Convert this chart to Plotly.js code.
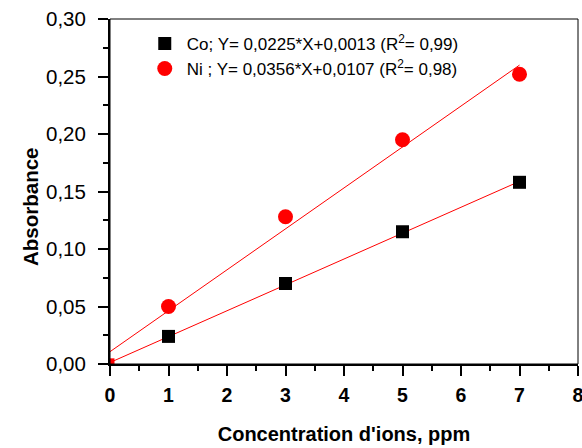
<!DOCTYPE html>
<html>
<head>
<meta charset="utf-8">
<script src="https://cdn.plot.ly/plotly-3.0.1.min.js"></script>
<style>html,body{margin:0;padding:0;background:#fff;}#chart{width:582px;height:448px;}</style>
</head>
<body>
<div id="chart"></div>
<script>
const concentrations = [1, 3, 5, 7];
const coAbs = [0.024, 0.070, 0.115, 0.158];
const niAbs = [0.050, 0.128, 0.195, 0.252];
const originX = [0];
const originY = [0.001];
const coFit = {slope: 0.0225, intercept: 0.0013};
const niFit = {slope: 0.0356, intercept: 0.0107};
const fitX = [0, 7];
const coLabel = "Co; Y= 0,0225*X+0,0013 (R<sup>2</sup>= 0,99)";
const niLabel = "Ni ; Y= 0,0356*X+0,0107 (R<sup>2</sup>= 0,98)";
const xTitle = "Concentration d'ions, ppm";
const yTitle = "Absorbance";
const xTicks = [0, 1, 2, 3, 4, 5, 6, 7, 8];
const yTicks = [0, 0.05, 0.10, 0.15, 0.20, 0.25, 0.30];

const fitLine = (f) => fitX.map(x => f.slope * x + f.intercept);

const traces = [
  {x: fitX, y: fitLine(coFit), mode: 'lines', line: {color: '#ff0000', width: 1}, showlegend: false, hoverinfo: 'skip'},
  {x: fitX, y: fitLine(niFit), mode: 'lines', line: {color: '#ff0000', width: 1}, showlegend: false, hoverinfo: 'skip'},
  {x: concentrations, y: coAbs, mode: 'markers', name: coLabel, marker: {symbol: 'square', color: '#000', size: 13}},
  {x: concentrations, y: niAbs, mode: 'markers', name: niLabel, marker: {symbol: 'circle', color: '#ff0000', size: 15}},
  {x: originX, y: originY, mode: 'markers', showlegend: false, marker: {symbol: 'square', color: '#ff0000', size: 9}, cliponaxis: true}
];

const layout = {
  width: 582, height: 448,
  margin: {l: 110, r: 4, t: 19, b: 84},
  separators: ', ',
  paper_bgcolor: '#fff', plot_bgcolor: '#fff',
  font: {family: 'Liberation Sans, Arial, sans-serif', color: '#000'},
  showlegend: true,
  legend: {x: 0.07, y: 0.98, xanchor: 'left', yanchor: 'top', bgcolor: 'rgba(0,0,0,0)', font: {size: 17}, tracegroupgap: 0, itemwidth: 34},
  xaxis: {
    range: [0, 8], tickvals: xTicks, ticks: 'outside', ticklen: 10, tickwidth: 2, tickcolor: '#000',
    showline: true, linewidth: 2, linecolor: '#000', showgrid: false, zeroline: false,
    ticklabeloverflow: 'allow', ticklabelstandoff: 3,
    tickfont: {size: 19.5, weight: 'bold'},
    minor: {dtick: 0.5, ticks: 'outside', ticklen: 5, tickwidth: 2, tickcolor: '#000', showgrid: false},
    title: {text: xTitle, font: {size: 20, weight: 'bold'}, standoff: 22}
  },
  yaxis: {
    range: [0, 0.30], tickvals: yTicks, tickformat: '.2f', ticks: 'outside', ticklen: 10, tickwidth: 2, tickcolor: '#000',
    showline: true, linewidth: 2, linecolor: '#000', showgrid: false, zeroline: false,
    ticklabelstandoff: 8,
    tickfont: {size: 20.5},
    minor: {dtick: 0.025, ticks: 'outside', ticklen: 5, tickwidth: 2, tickcolor: '#000', showgrid: false}
  },
  annotations: [
    {text: yTitle, xref: 'paper', yref: 'paper', x: -0.171, y: 0.455, xanchor: 'center', yanchor: 'middle',
     textangle: -90, showarrow: false, font: {size: 20.5, weight: 'bold'}}
  ],
  shapes: [
    {type: 'rect', xref: 'paper', yref: 'paper', x0: 0, x1: 1, y0: 0, y1: 1, line: {color: '#000', width: 1}}
  ]
};

Plotly.newPlot('chart', traces, layout, {displayModeBar: false, staticPlot: true});
</script>
</body>
</html>
